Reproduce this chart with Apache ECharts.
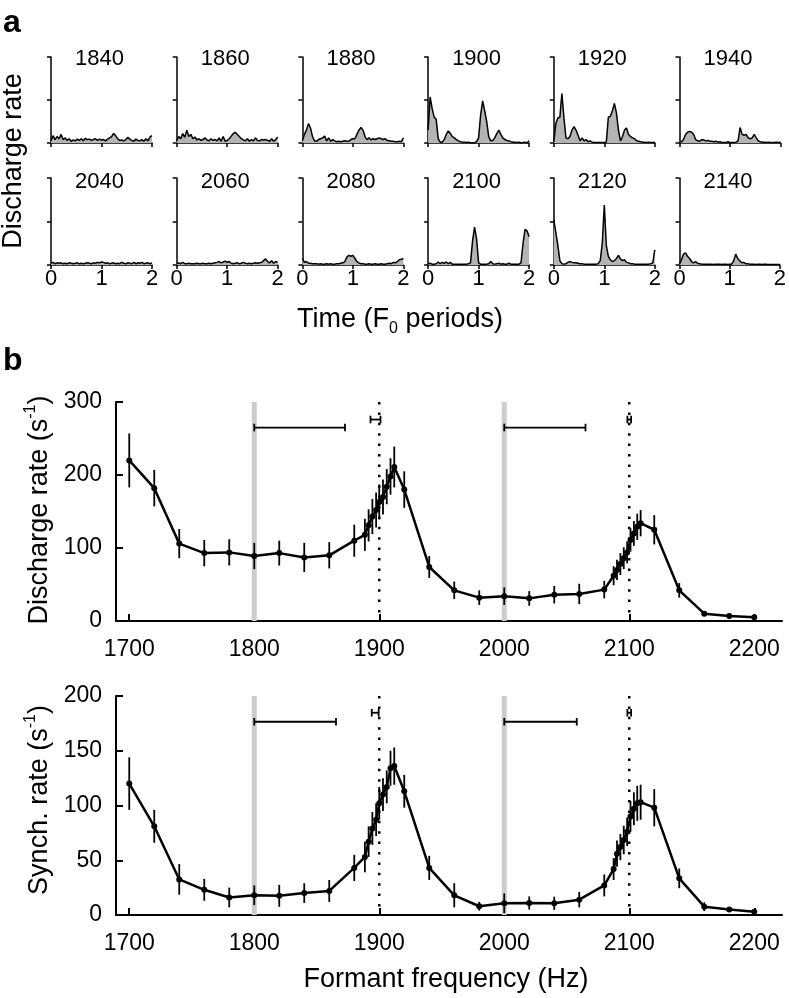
<!DOCTYPE html>
<html><head><meta charset="utf-8">
<script src="https://cdn.jsdelivr.net/npm/echarts@6/dist/echarts.min.js"></script>
<style>html,body{margin:0;padding:0;background:#fff}#c{width:789px;height:998px}</style>
</head><body><div id="c"></div>
<script>
// ---------- Panel a: period histograms ----------
const panelTitles = ['1840','1860','1880','1900','1920','1940','2040','2060','2080','2100','2120','2140'];
const panelTicks = [0, 1, 2];
const p1840 = [0.05,0.17,0.08,0.15,0.1,0.2,0.08,0.12,0.06,0.1,0.04,0.07,0.05,0.09,0.06,0.1,0.05,0.11,0.08,0.09,0.06,0.08,0.1,0.06,0.09,0.07,0.08,0.05,0.09,0.12,0.15,0.22,0.17,0.1,0.06,0.07,0.05,0.08,0.13,0.09,0.06,0.04,0.09,0.06,0.05,0.08,0.04,0.1,0.05,0.14,0.17];
const p1860 = [0.05,0.15,0.1,0.22,0.13,0.3,0.15,0.2,0.1,0.14,0.07,0.1,0.06,0.08,0.12,0.07,0.05,0.1,0.06,0.08,0.05,0.12,0.04,0.15,0.04,0.06,0.1,0.16,0.22,0.25,0.2,0.15,0.1,0.07,0.05,0.1,0.04,0.08,0.05,0.12,0.06,0.05,0.08,0.07,0.08,0.06,0.04,0.1,0.04,0.08,0.14];
const p1880 = [0.05,0.2,0.3,0.45,0.35,0.15,0.05,0.04,0.08,0.1,0.12,0.16,0.05,0.12,0.04,0.08,0.05,0.03,0.04,0.03,0.04,0.05,0.04,0.04,0.08,0.1,0.1,0.2,0.3,0.36,0.3,0.15,0.08,0.12,0.07,0.1,0.08,0.1,0.12,0.1,0.08,0.1,0.06,0.05,0.04,0.04,0.03,0.03,0.04,0.03,0.12];
const p1900 = [0.3,1.07,0.8,0.6,0.55,0.1,0.02,0.02,0.08,0.2,0.28,0.22,0.15,0.12,0.08,0.05,0.03,0.02,0.02,0.01,0.02,0.0,0.0,0.0,0.03,0.12,0.65,0.98,0.75,0.5,0.15,0.05,0.06,0.12,0.22,0.3,0.2,0.12,0.08,0.06,0.05,0.03,0.02,0.02,0.01,0.02,0.0,0.01,0.02,0.0,0.05];
const p1920 = [0.02,0.45,0.58,0.6,1.15,0.6,0.12,0.1,0.15,0.3,0.38,0.3,0.18,0.05,0.12,0.05,0.08,0.03,0.05,0.02,0.01,0.01,0.01,0.01,0.01,0.01,0.02,0.6,0.62,0.75,0.92,0.7,0.3,0.05,0.15,0.3,0.35,0.2,0.15,0.12,0.1,0.05,0.04,0.03,0.02,0.02,0.01,0.02,0.01,0.01,0.02];
const p1940 = [0.02,0.03,0.08,0.2,0.25,0.27,0.25,0.2,0.08,0.05,0.04,0.08,0.07,0.05,0.06,0.04,0.04,0.03,0.04,0.02,0.03,0.01,0.01,0.01,0.03,0.01,0.01,0.01,0.02,0.05,0.36,0.2,0.18,0.2,0.12,0.1,0.12,0.2,0.12,0.05,0.03,0.02,0.02,0.01,0.02,0.01,0.01,0.01,0.02,0.01,0.02];
const p2040 = [0.04,0.06,0.03,0.05,0.04,0.05,0.03,0.04,0.03,0.05,0.04,0.03,0.04,0.05,0.03,0.04,0.03,0.04,0.05,0.04,0.03,0.05,0.04,0.06,0.05,0.07,0.06,0.04,0.05,0.03,0.04,0.05,0.03,0.04,0.03,0.06,0.04,0.03,0.05,0.04,0.03,0.06,0.03,0.05,0.04,0.06,0.03,0.04,0.05,0.03,0.05];
const p2060 = [0.03,0.05,0.03,0.06,0.03,0.03,0.04,0.03,0.03,0.03,0.04,0.03,0.03,0.04,0.03,0.03,0.04,0.03,0.04,0.05,0.06,0.08,0.05,0.07,0.09,0.06,0.08,0.04,0.03,0.04,0.05,0.03,0.04,0.06,0.04,0.03,0.04,0.03,0.04,0.05,0.04,0.05,0.06,0.1,0.14,0.08,0.05,0.1,0.04,0.08,0.06];
const p2080 = [0.15,0.06,0.08,0.04,0.04,0.03,0.03,0.03,0.02,0.03,0.02,0.02,0.03,0.02,0.03,0.02,0.02,0.03,0.03,0.04,0.05,0.08,0.18,0.22,0.2,0.22,0.15,0.08,0.05,0.03,0.03,0.02,0.02,0.03,0.02,0.02,0.03,0.02,0.02,0.03,0.02,0.02,0.03,0.04,0.03,0.06,0.05,0.08,0.12,0.13,0.15];
const p2100 = [0.03,0.04,0.02,0.02,0.03,0.07,0.03,0.06,0.04,0.07,0.03,0.06,0.02,0.02,0.02,0.02,0.02,0.02,0.02,0.02,0.03,0.05,0.55,0.87,0.6,0.05,0.02,0.02,0.02,0.02,0.03,0.08,0.03,0.02,0.03,0.04,0.02,0.03,0.02,0.02,0.04,0.02,0.02,0.02,0.02,0.02,0.05,0.5,0.82,0.78,0.65];
const p2120 = [1.04,0.75,0.45,0.1,0.03,0.02,0.03,0.06,0.08,0.06,0.05,0.05,0.04,0.03,0.03,0.02,0.02,0.02,0.02,0.02,0.02,0.02,0.03,0.1,0.5,1.38,0.45,0.2,0.12,0.08,0.1,0.15,0.22,0.14,0.1,0.12,0.06,0.05,0.03,0.03,0.02,0.02,0.02,0.02,0.02,0.02,0.02,0.02,0.03,0.05,0.35];
const p2140 = [0.02,0.12,0.25,0.28,0.2,0.15,0.08,0.05,0.08,0.04,0.03,0.02,0.02,0.02,0.02,0.02,0.02,0.01,0.02,0.02,0.02,0.01,0.02,0.02,0.01,0.02,0.02,0.1,0.25,0.15,0.1,0.05,0.06,0.03,0.03,0.02,0.02,0.02,0.01,0.02,0.02,0.01,0.02,0.02,0.01,0.01,0.01,0.01,0.01,0.01,0.01];
const panelData = [p1840,p1860,p1880,p1900,p1920,p1940,p2040,p2060,p2080,p2100,p2120,p2140];

// ---------- Panel b: rate vs formant frequency ----------
const freq = [1700,1720,1740,1760,1780,1800,1820,1840,1860,1880,1888.5,1891.5,1894.5,1897.5,1900,1903,1906,1909,1912,1920,1940,1960,1980,2000,2020,2040,2060,2080,2087.5,2090.2,2092.9,2095.6,2098.3,2101,2103.7,2106.4,2109.1,2120,2140,2160,2180,2200];
const dischargeRate = [220,182,106,93,94,89,93,87,90,110,118,131,143,152,163,170,184,198,211,180,74,42,32,34,31,36,37,43,62,70,78,86,94,111,120,129,134,125,42,10,7,5];
const dischargeErr  = [37,25,20,18,18,18,17,20,18,22,22,22,24,24,24,24,24,25,28,25,15,12,10,12,10,12,14,12,13,14,15,15,15,16,17,18,18,20,10,3,2,2];
const synchRate = [120,81,32.5,23,16,18,17.5,20,22,43,53,67,79,87,102,110,117,134,136,113,43,18,8,10.7,11,10.7,14,27,42,56,62,68.5,76,90,97,102,103,98,33.5,7.6,5,3];
const synchErr  = [24,15,14,10,9,9,10,9,10,12,14,14,15,15,15,15,15,16,17,15,11,11,4,9,6,6,7,10,10,12,12,13,13,14,15,16,16,17,9,4,2,2];
const freqTicks = [1700,1800,1900,2000,2100,2200];
const refBands = [1800, 2000];
const refDotted = [1900, 2100];
const dischargeRanges = [[1800,1872.6,265],[2000,2065,265],[1893,1901,276],[2098.5,2101.5,276]];
const synchRanges = [[1800,1865.4,176.5],[2000,2058,176.5],[1894,1899.5,184.7],[2098.5,2101.5,184.7]];

const FONT = '"Liberation Sans", Arial, sans-serif';
const chart = echarts.init(document.getElementById('c'), null, {renderer:'canvas'});

const grids = [], xAxes = [], yAxes = [], series = [], graphics = [];
const black = '#000';
const plain = v => String(v);

for (let i = 0; i < 12; i++) {
  const row = i < 6 ? 0 : 1, col = i % 6;
  const left = 51 + col * 125.7;
  const top = row ? 178 : 57;
  const h = row ? 87 : 86;
  grids.push({left: left, top: top, width: 101, height: h});
  xAxes.push({gridIndex: i, type: 'value', min: 0, max: 2, interval: 1,
    axisLine: {show: true, lineStyle: {color: black, width: 1.5}},
    axisTick: {show: true, inside: false, length: 4, lineStyle: {color: black, width: 1.5}},
    axisLabel: {show: row === 1, fontSize: 22, color: black, margin: 3, fontFamily: FONT,
      customValues: panelTicks, formatter: plain},
    splitLine: {show: false}});
  yAxes.push({gridIndex: i, type: 'value', min: 0, max: 2, interval: 1,
    axisLine: {show: true, lineStyle: {color: black, width: 1.5}},
    axisTick: {show: true, inside: false, length: 4, lineStyle: {color: black, width: 1.5}},
    axisLabel: {show: false}, splitLine: {show: false}});
  const arr = panelData[i];
  series.push({type: 'line', xAxisIndex: i, yAxisIndex: i, symbol: 'none', silent: true,
    data: arr.map((v, k) => [k * 2 / (arr.length - 1), v]),
    lineStyle: {color: black, width: 1.5}, areaStyle: {color: '#b4b4b4', opacity: 1}});
  graphics.push({type: 'text', x: left + 48.5, y: row ? 182 : 59,
    style: {text: panelTitles[i], font: '22px ' + FONT, fill: black, align: 'center', verticalAlign: 'middle'}});
}

function bigChart(gi, top, yMax, yInterval, rate, err, ranges) {
  grids.push({left: 116, top: top, width: 666, height: 219});
  xAxes.push({gridIndex: gi, type: 'value', min: 1689.4, max: 2222.2,
    axisLine: {show: true, lineStyle: {color: black, width: 2}},
    axisTick: {show: true, inside: true, length: 7, customValues: freqTicks, lineStyle: {color: black, width: 2}},
    axisLabel: {fontSize: 23, color: black, margin: 17, fontFamily: FONT, customValues: freqTicks, formatter: plain},
    splitLine: {show: false}});
  yAxes.push({gridIndex: gi, type: 'value', min: 0, max: yMax, interval: yInterval,
    axisLine: {show: true, lineStyle: {color: black, width: 2}},
    axisTick: {show: true, inside: true, length: 7, lineStyle: {color: black, width: 2}},
    axisLabel: {fontSize: 23, color: black, margin: 14, fontFamily: FONT, formatter: plain},
    splitLine: {show: false}});
  series.push({type: 'custom', xAxisIndex: gi, yAxisIndex: gi, silent: true, z: 1,
    data: refBands.map(f => [f]),
    renderItem: (p, api) => {
      const a = api.coord([api.value(0), 0]), b = api.coord([api.value(0), yMax]);
      return {type: 'line', shape: {x1: a[0], y1: a[1], x2: b[0], y2: b[1]}, style: {stroke: '#cccccc', lineWidth: 5}};
    }});
  series.push({type: 'custom', xAxisIndex: gi, yAxisIndex: gi, silent: true, z: 2,
    data: refDotted.map(f => [f]),
    renderItem: (p, api) => {
      const a = api.coord([api.value(0), yMax]), b = api.coord([api.value(0), 0]);
      return {type: 'line', shape: {x1: a[0], y1: a[1], x2: b[0], y2: b[1]},
        style: {stroke: black, lineWidth: 2.5, lineDash: [2.5, 7.9]}};
    }});
  series.push({type: 'custom', xAxisIndex: gi, yAxisIndex: gi, silent: true, z: 3,
    data: ranges,
    renderItem: (p, api) => {
      const a = api.coord([api.value(0), api.value(2)]), b = api.coord([api.value(1), api.value(2)]);
      const c = 3.8;
      return {type: 'group', children: [
        {type: 'line', shape: {x1: a[0], y1: a[1], x2: b[0], y2: b[1]}, style: {stroke: black, lineWidth: 1.8}},
        {type: 'line', shape: {x1: a[0], y1: a[1] - c, x2: a[0], y2: a[1] + c}, style: {stroke: black, lineWidth: 1.8}},
        {type: 'line', shape: {x1: b[0], y1: b[1] - c, x2: b[0], y2: b[1] + c}, style: {stroke: black, lineWidth: 1.8}}
      ]};
    }});
  series.push({type: 'custom', xAxisIndex: gi, yAxisIndex: gi, silent: true, z: 4,
    data: freq.map((f, k) => [f, rate[k] - err[k], rate[k] + err[k]]),
    renderItem: (p, api) => {
      const a = api.coord([api.value(0), api.value(1)]), b = api.coord([api.value(0), api.value(2)]);
      return {type: 'line', shape: {x1: a[0], y1: a[1], x2: b[0], y2: b[1]}, style: {stroke: black, lineWidth: 1.8}};
    }});
  series.push({type: 'line', xAxisIndex: gi, yAxisIndex: gi, silent: true, z: 5,
    data: freq.map((f, k) => [f, rate[k]]),
    symbol: 'circle', symbolSize: 6, showSymbol: true,
    lineStyle: {color: black, width: 2.5}, itemStyle: {color: black}});
}
bigChart(12, 402, 300, 100, dischargeRate, dischargeErr, dischargeRanges);
bigChart(13, 696, 200, 50, synchRate, synchErr, synchRanges);

const rich = {
  m: {fontSize: 27, fontFamily: FONT, color: black, lineHeight: 34, verticalAlign: 'middle'},
  sup: {fontSize: 16, fontFamily: FONT, color: black, lineHeight: 34, verticalAlign: 'top'},
  sub: {fontSize: 16, fontFamily: FONT, color: black, lineHeight: 34, verticalAlign: 'bottom'}
};
graphics.push(
  {type: 'text', x: 3, y: 7, style: {text: 'a', font: 'bold 32px ' + FONT, fill: black, align: 'left', verticalAlign: 'top'}},
  {type: 'text', x: 3, y: 345, style: {text: 'b', font: 'bold 32px ' + FONT, fill: black, align: 'left', verticalAlign: 'top'}},
  {type: 'text', x: 14, y: 161, rotation: Math.PI / 2,
    style: {text: 'Discharge rate', font: '27px ' + FONT, fill: black, align: 'center', verticalAlign: 'middle'}},
  {type: 'text', x: 400, y: 320,
    style: {text: '{m|Time (F}{sub|0}{m| periods)}', rich: rich, align: 'center', verticalAlign: 'middle'}},
  {type: 'text', x: 40, y: 510, rotation: Math.PI / 2,
    style: {text: '{m|Discharge rate (s}{sup|-1}{m|)}', rich: rich, align: 'center', verticalAlign: 'middle'}},
  {type: 'text', x: 40, y: 800, rotation: Math.PI / 2,
    style: {text: '{m|Synch. rate (s}{sup|-1}{m|)}', rich: rich, align: 'center', verticalAlign: 'middle'}},
  {type: 'text', x: 446, y: 980,
    style: {text: 'Formant frequency (Hz)', font: '27px ' + FONT, fill: black, align: 'center', verticalAlign: 'middle'}}
);

chart.setOption({
  animation: false,
  backgroundColor: '#fff',
  textStyle: {fontFamily: FONT},
  grid: grids, xAxis: xAxes, yAxis: yAxes, series: series, graphic: graphics
});
</script></body></html>
